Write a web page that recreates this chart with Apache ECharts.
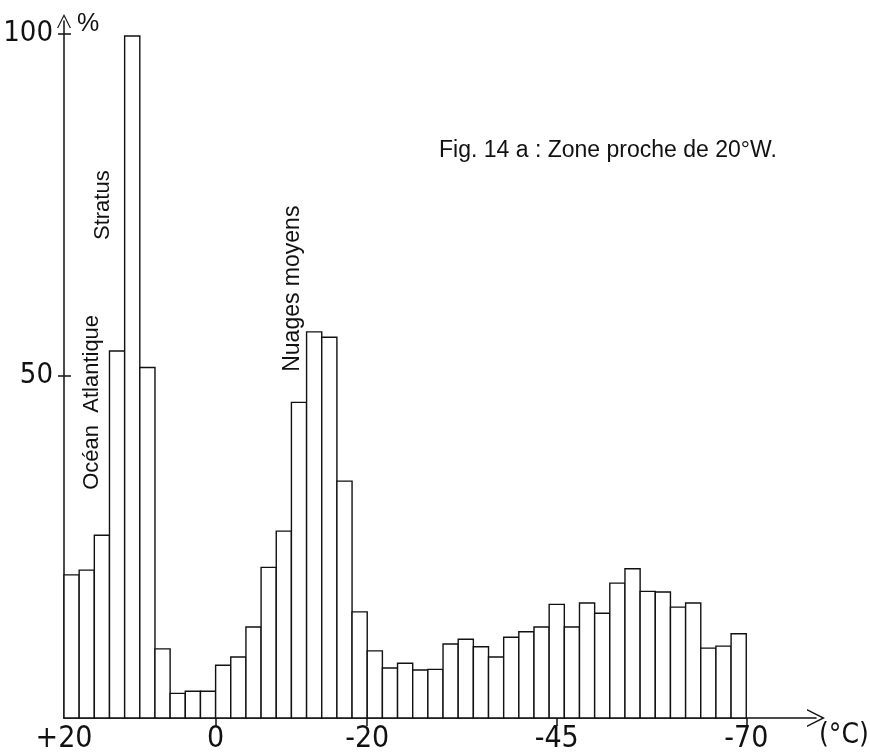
<!DOCTYPE html>
<html lang="fr">
<head>
    <meta charset="UTF-8">
    <script src="https://cdn.jsdelivr.net/npm/echarts@6/dist/echarts.min.js"></script>
    <title>Fig. 14 a</title>
    <style>
        html, body { margin: 0; padding: 0; background: #fff; }
    </style>
</head>
<body>
<div id="main" style="width: 870px;height:756px;"></div>

<script type="text/javascript">
    // classes de température (borne chaude de chaque classe de 2 °C)
    var binWarm = [20, 18, 16, 14, 12, 10, 8, 6, 4, 2,
                   0, -2, -4, -6, -8, -10, -12, -14, -16, -18,
                   -20, -22, -24, -26, -28, -30, -32, -34, -36, -38,
                   -40, -42, -44, -46, -48, -50, -52, -54, -56, -58,
                   -60, -62, -64, -66, -68];
    var binWidth = 2;
    // fréquence relative (%)
    var freq = [20.9, 21.6, 26.7, 53.6, 99.6, 51.2, 10.1, 3.6, 3.9, 3.9,
                7.7, 8.9, 13.3, 22.0, 27.3, 46.1, 56.4, 55.6, 34.6, 15.5,
                9.8, 7.3, 8.0, 7.0, 7.1, 10.8, 11.5, 10.4, 8.9, 11.8,
                12.6, 13.3, 16.6, 13.3, 16.8, 15.3, 19.7, 21.8, 18.5, 18.4,
                16.2, 16.8, 10.2, 10.5, 12.3];
    var xTicks = [20, 0, -20, -45, -70];
    var yTicks = [50, 100];
    // annotations : [température, %, texte, taille]
    var notes = [
        [16.3, 46.1, 'Océan  Atlantique', 22],
        [14.85, 74.9, 'Stratus', 22],
        [-10.2, 62.7, 'Nuages moyens', 23]
    ];

    var data = [];
    for (var i = 0; i < binWarm.length; i++) {
        data.push([binWarm[i], binWarm[i] - binWidth, freq[i]]);
    }

    var ink = '#111';
    var digitFont = "'Liberation Sans Narrow', 'DejaVu Sans Condensed', sans-serif";
    var textFont = "'Liberation Sans', Arial, sans-serif";
    var chevron = 'path://M0,20 L10,0 L20,20 L18.2,20 L10,3.6 L1.8,20 Z';

    var myChart = echarts.init(document.getElementById('main'));
    var option = {
        animation: false,
        backgroundColor: '#fff',
        title: {
            text: 'Fig. 14 a : Zone proche de 20°W.',
            left: 434,
            top: 134,
            textStyle: {
                fontFamily: textFont,
                fontWeight: 'normal',
                fontSize: 23,
                color: ink
            }
        },
        grid: {
            left: 64,
            right: 54,
            top: 21,
            bottom: 38,
            containLabel: false,
            outerBoundsMode: 'none'
        },
        xAxis: {
            type: 'value',
            inverse: true,
            min: -79.2,
            max: 20,
            name: '(°C)',
            nameLocation: 'start',
            nameGap: 3,
            nameTextStyle: {
                fontFamily: digitFont,
                fontSize: 28,
                color: ink,
                verticalAlign: 'top',
                align: 'left',
                padding: [4, 0, 0, 0]
            },
            axisLine: {
                show: true,
                onZero: false,
                symbol: ['none', chevron],
                symbolSize: [18, 18],
                lineStyle: { color: ink, width: 1.5 }
            },
            axisTick: {
                show: true,
                length: 8,
                customValues: [0, -20, -45, -70],
                lineStyle: { color: ink, width: 1.5 }
            },
            axisLabel: {
                margin: 6,
                customValues: xTicks,
                fontFamily: digitFont,
                fontSize: 30,
                color: ink,
                formatter: function (v) {
                    return v > 0 ? '+' + v : String(v);
                }
            },
            splitLine: { show: false }
        },
        yAxis: [{
            type: 'value',
            min: 0,
            max: 101.8,
            name: '%',
            nameLocation: 'end',
            nameGap: 9,
            nameTextStyle: {
                fontFamily: textFont,
                fontSize: 25,
                color: ink,
                align: 'left',
                verticalAlign: 'top',
                padding: [0, 0, 0, 13]
            },
            axisLine: {
                show: true,
                onZero: false,
                symbol: ['none', chevron],
                symbolSize: [14, 16],
                lineStyle: { color: ink, width: 1.5 }
            },
            axisTick: {
                show: true,
                length: 6,
                customValues: yTicks,
                lineStyle: { color: ink, width: 1.5 }
            },
            axisLabel: {
                margin: 11,
                customValues: yTicks,
                fontFamily: digitFont,
                fontSize: 29,
                color: ink
            },
            splitLine: { show: false }
        }, {
            // petites graduations vers l'intérieur
            type: 'value',
            min: 0,
            max: 101.8,
            position: 'left',
            axisLine: { show: false, onZero: false },
            axisTick: {
                show: true,
                inside: true,
                length: 7,
                customValues: yTicks,
                lineStyle: { color: ink, width: 1.5 }
            },
            axisLabel: { show: false },
            splitLine: { show: false }
        }],
        series: [{
            type: 'custom',
            data: data,
            encode: { x: [0, 1], y: 2 },
            renderItem: function (params, api) {
                var p1 = api.coord([api.value(0), api.value(2)]);
                var p2 = api.coord([api.value(1), 0]);
                return {
                    type: 'rect',
                    shape: {
                        x: Math.min(p1[0], p2[0]),
                        y: p1[1],
                        width: Math.abs(p2[0] - p1[0]),
                        height: p2[1] - p1[1]
                    },
                    style: {
                        fill: '#fff',
                        stroke: ink,
                        lineWidth: 1.4
                    }
                };
            }
        }]
    };
    myChart.setOption(option);

    // textes verticaux placés en coordonnées du graphique
    var graphics = notes.map(function (n) {
        var p = myChart.convertToPixel({ gridIndex: 0 }, [n[0], n[1]]);
        return {
            type: 'text',
            x: p[0],
            y: p[1],
            rotation: Math.PI / 2,
            style: {
                text: n[2],
                fontFamily: textFont,
                fontSize: n[3],
                fill: ink,
                align: 'center',
                verticalAlign: 'middle'
            }
        };
    });
    myChart.setOption({ graphic: graphics });
</script>
</body>
</html>
